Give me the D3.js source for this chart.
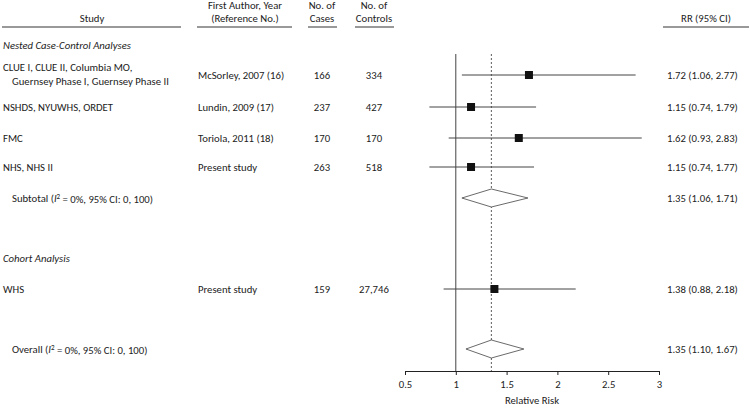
<!DOCTYPE html>
<html><head><meta charset="utf-8">
<script src="https://cdn.jsdelivr.net/npm/d3@7"></script>
<style>
body{margin:0;background:#fff;}
svg{display:block;font-family:Carlito,Lato,"Open Sans",sans-serif;font-size:10.7px;fill:#222;}
</style></head><body>
<svg id="c" width="750" height="408"></svg>
<script>
// Data
const studyNames = [["CLUE I, CLUE II, Columbia MO,","Guernsey Phase I, Guernsey Phase II"],["NSHDS, NYUWHS, ORDET"],["FMC"],["NHS, NHS II"],["WHS"]];
const authors = ["McSorley, 2007 (16)","Lundin, 2009 (17)","Toriola, 2011 (18)","Present study","Present study"];
const cases = ["166","237","170","263","159"];
const controls = ["334","427","170","518","27,746"];
const rr = [1.72,1.15,1.62,1.15,1.38];
const lo = [1.06,0.74,0.93,0.74,0.88];
const hi = [2.77,1.79,2.83,1.77,2.18];
const rowSlots = [0,1,2,3,7];           // layout slot index of each study
const pooledLabels = ["Subtotal","Overall"];
const pooledRR = [1.35,1.35];
const pooledLo = [1.06,1.10];
const pooledHi = [1.71,1.67];
const pooledSlots = [4,9];
const sectionLabels = ["Nested Case-Control Analyses","Cohort Analysis"];
const sectionSlots = [-1,6];
const xTicks = [0.5,1,1.5,2,2.5,3];
const overallRR = 1.35;

const svg = d3.select("#c");
const x = d3.scaleLinear().domain([0.5,3]).range([405,659]);
const ySlot = s => {
  const map = {"-1":45,0:75,1:107,2:138,3:167,4:198,6:258,7:289,9:349};
  return map[s];
};

// headers
const hdr = svg.append("g");
const headers = [
  {lines:["Study"], cx:92, x1:2, x2:181},
  {lines:["First Author, Year","(Reference No.)"], cx:245, x1:197, x2:292},
  {lines:["No. of","Cases"], cx:322, x1:308, x2:337},
  {lines:["No. of","Controls"], cx:374, x1:355, x2:394},
  {lines:["RR (95% CI)"], cx:706, x1:663, x2:749}
];
headers.forEach(h=>{
  const n=h.lines.length;
  h.lines.forEach((l,i)=>{
    hdr.append("text").attr("x",h.cx).attr("y",22-(n-1-i)*13).attr("text-anchor","middle").text(l);
  });
  hdr.append("line").attr("x1",h.x1).attr("x2",h.x2).attr("y1",27).attr("y2",27)
    .attr("stroke","#777").attr("stroke-width",1.5);
});

// section labels
sectionLabels.forEach((s,i)=>{
  svg.append("text").attr("x",3).attr("y",ySlot(sectionSlots[i])).attr("dy","0.35em")
    .attr("font-style","italic").text(s);
});

// study rows text
studyNames.forEach((lines,i)=>{
  const y = ySlot(rowSlots[i]);
  if(lines.length===2){
    svg.append("text").attr("x",3).attr("y",y-8).attr("dy","0.35em").text(lines[0]);
    svg.append("text").attr("x",12).attr("y",y+6).attr("dy","0.35em").text(lines[1]);
  } else {
    svg.append("text").attr("x",3).attr("y",y).attr("dy","0.35em").text(lines[0]);
  }
  svg.append("text").attr("x",198).attr("y",y).attr("dy","0.35em").text(authors[i]);
  svg.append("text").attr("x",322).attr("y",y).attr("dy","0.35em").attr("text-anchor","middle").text(cases[i]);
  svg.append("text").attr("x",374).attr("y",y).attr("dy","0.35em").attr("text-anchor","middle").text(controls[i]);
  svg.append("text").attr("x",667).attr("y",y).attr("dy","0.35em")
    .text(`${rr[i].toFixed(2)} (${lo[i].toFixed(2)}, ${hi[i].toFixed(2)})`);
});

// pooled rows text
pooledLabels.forEach((p,i)=>{
  const y = ySlot(pooledSlots[i]);
  const t = svg.append("text").attr("x",12).attr("y",y).attr("dy","0.35em");
  t.append("tspan").text(p+" (");
  t.append("tspan").attr("font-style","italic").text("I");
  t.append("tspan").attr("font-size","7px").attr("dy","-0.45em").text("2");
  t.append("tspan").attr("dy","0.45em").text(" = 0%, 95% CI: 0, 100)");
  svg.append("text").attr("x",667).attr("y",y).attr("dy","0.35em")
    .text(`${pooledRR[i].toFixed(2)} (${pooledLo[i].toFixed(2)}, ${pooledHi[i].toFixed(2)})`);
});

// axis
const axisY = 371;
const axis = d3.axisBottom(x).tickValues(xTicks).tickFormat(d3.format("")).tickSize(4).tickSizeOuter(0);
const ag = svg.append("g").attr("transform",`translate(0,${axisY})`).call(axis);
ag.select(".domain").attr("stroke","#222");
ag.selectAll(".tick line").attr("stroke","#222");
ag.selectAll(".tick text").attr("font-size","10.7px").attr("font-family","Carlito,Lato,'Open Sans',sans-serif").attr("fill","#222").attr("dy","0.9em");
svg.append("text").attr("x",x(1.75)).attr("y",404).attr("text-anchor","middle").text("Relative Risk");

// reference lines
svg.append("line").attr("x1",x(1)).attr("x2",x(1)).attr("y1",54).attr("y2",axisY).attr("stroke","#444").attr("stroke-width",1);
svg.append("line").attr("x1",x(overallRR)).attr("x2",x(overallRR)).attr("y1",54).attr("y2",axisY)
  .attr("stroke","#333").attr("stroke-width",0.8).attr("stroke-dasharray","2,2");

// CIs and squares
rr.forEach((v,i)=>{
  const y = ySlot(rowSlots[i]);
  svg.append("line").attr("x1",x(lo[i])).attr("x2",x(hi[i])).attr("y1",y).attr("y2",y).attr("stroke","#444").attr("stroke-width",1);
  svg.append("rect").attr("x",x(v)-4).attr("y",y-4).attr("width",8).attr("height",8).attr("fill","#111");
});

// diamonds
pooledRR.forEach((v,i)=>{
  const y = ySlot(pooledSlots[i]);
  const h = 9;
  const pts = [[x(pooledLo[i]),y],[x(v),y-h],[x(pooledHi[i]),y],[x(v),y+h]];
  svg.append("polygon").attr("points",pts.map(p=>p.join(",")).join(" "))
    .attr("fill","#fff").attr("stroke","#444").attr("stroke-width",0.8);
});
</script>
</body></html>
